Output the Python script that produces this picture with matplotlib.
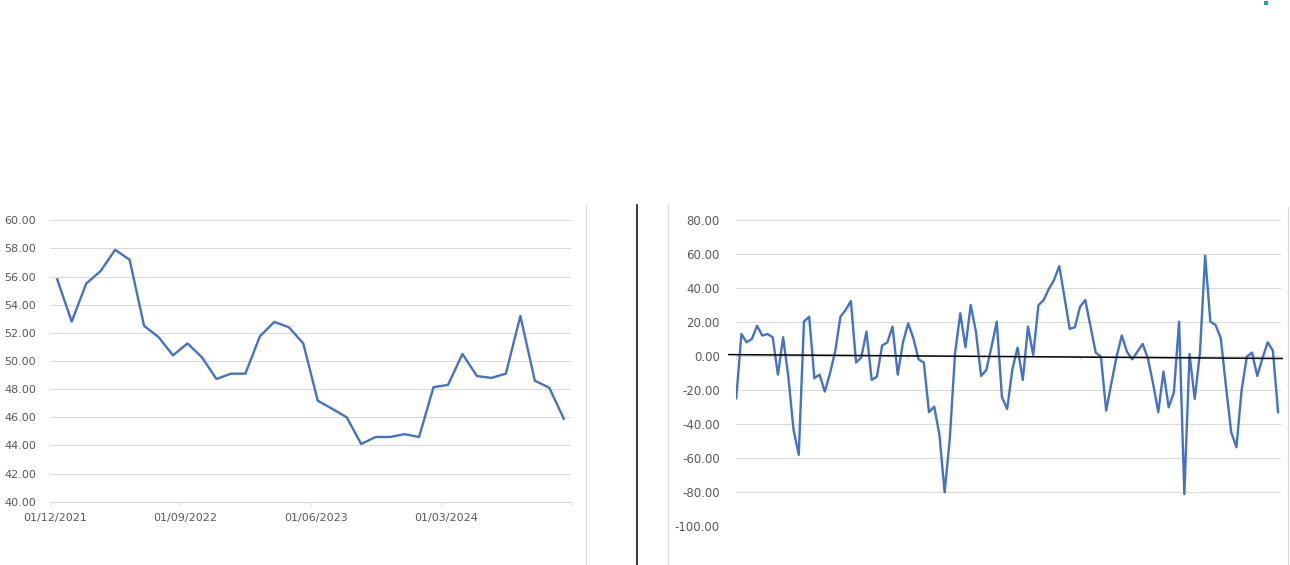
import matplotlib
matplotlib.use('Agg')
import matplotlib.pyplot as plt
from matplotlib.lines import Line2D
from matplotlib.patches import Rectangle
import numpy as np

plt.rcParams['font.family'] = ['DejaVu Sans']
plt.rcParams['font.size'] = 8

# Left chart: monthly values, Dec 2021 .. Nov 2024
monthly_values = [55.8, 52.8, 55.5, 56.4, 57.9, 57.2, 52.5, 51.7, 50.4, 51.25,
                  50.26, 48.72, 49.1, 49.1, 51.75, 52.78, 52.4, 51.25, 47.18, 46.6,
                  46.0, 44.1, 44.6, 44.6, 44.8, 44.6, 48.14, 48.3, 50.5, 48.93,
                  48.8, 49.1, 53.2, 48.6, 48.1, 45.9]
date_labels = ['01/12/2021', '01/09/2022', '01/06/2023', '01/03/2024']

# Right chart: period changes
changes = [-24.7, 13.1, 8.2, 10.2, 18.0, 12.2, 13.1, 11.2, -10.8, 11.2,
           -12.0, -43.3, -58.0, 20.4, 23.3, -12.9, -10.8, -20.8, -10.0, 3.0,
           23.3, 27.3, 32.5, -3.7, -0.6, 14.5, -13.9, -12.0, 6.3, 8.2,
           17.5, -10.8, 8.2, 19.4, 10.6, -1.8, -3.7, -32.9, -29.6, -46.3,
           -80.0, -48.0, 1.8, 25.3, 5.3, 30.2, 14.5, -11.6, -8.0, 5.7,
           20.4, -24.1, -31.0, -7.6, 5.1, -13.9, 17.5, 0.8, 30.0, 33.1,
           39.6, 44.9, 53.1, 34.7, 16.1, 17.1, 29.2, 33.1, 17.5, 2.2,
           -0.2, -32.0, -15.9, -0.2, 12.2, 2.7, -1.8, 2.7, 7.3, -1.2,
           -15.9, -32.9, -9.0, -30.0, -21.2, 20.4, -81.0, 1.4, -25.1, 2.0,
           59.2, 20.4, 18.4, 10.6, -17.8, -44.7, -53.5, -19.8, -0.2, 2.2,
           -11.6, -1.2, 8.2, 3.3, -32.9]

# linear trend: value at its start and end
trend_ends = [1.0, -1.3]

BLUE = '#4472C4'
GRID = '#d9d9d9'
TXT = '#595959'

fig = plt.figure(figsize=(12.9, 5.65), dpi=100)

# ---- left chart
ax1 = fig.add_axes([50 / 1290, 1 - 501.7 / 565, 521 / 1290, 281.4 / 565])
n = len(monthly_values)
ax1.plot(np.arange(n) + 0.5, monthly_values, color=BLUE, lw=1.7)
ax1.set_xlim(0, n)
ax1.set_ylim(40, 60)
ax1.set_yticks(np.arange(40, 61, 2))
ax1.set_yticklabels([f'{v:.2f}' for v in np.arange(40, 61, 2)])
ax1.set_xticks(np.arange(0, n + 1, 9), minor=True)
ax1.set_xticks(np.arange(0, n, 9) + 0.38)
ax1.set_xticklabels(date_labels)
ax1.tick_params(axis='x', which='major', length=0, pad=8, colors=TXT)
ax1.tick_params(axis='x', which='minor', length=3, color=GRID)
ax1.tick_params(axis='y', length=0, pad=10, colors=TXT)
ax1.grid(axis='y', color=GRID, lw=0.75)
ax1.set_axisbelow(True)
for s in ['top', 'right', 'left']:
    ax1.spines[s].set_visible(False)
ax1.spines['bottom'].set_color(GRID)

# ---- right chart
ax2 = fig.add_axes([735.7 / 1290, 1 - 526.3 / 565, 545 / 1290, 306 / 565])
m = len(changes)
idx = np.arange(m)
ax2.plot(idx, changes, color=BLUE, lw=1.7, zorder=3)
ax2.set_xlim(-0.1, m - 1 + 0.5)
ax2.set_ylim(-100, 80)
yt = np.arange(-100, 81, 20)
ax2.set_yticks(yt)
ax2.set_yticklabels([f'{v:.2f}' for v in yt])
ax2.tick_params(axis='y', length=0, pad=11.5, colors=TXT, labelsize=8.5)
ax2.grid(axis='y', color=GRID, lw=0.75)
ax2.get_ygridlines()[0].set_visible(False)
ax2.set_axisbelow(True)
for s in ['top', 'right', 'left']:
    ax2.spines[s].set_visible(False)
ax2.spines['bottom'].set_position(('data', 0))
ax2.spines['bottom'].set_color(GRID)
ax2.set_xticks(np.arange(0, m, 33))
ax2.set_xticklabels([])
ax2.tick_params(axis='x', length=3, color=GRID)

# linear trend line
ax2.plot([-1.4, m - 1 + 0.8], trend_ends, color='black', lw=1.1, zorder=4, clip_on=False)

# chart frame / separators
def vline(x, y0, color, lw):
    fig.add_artist(Line2D([x / 1290, x / 1290], [1 - y0 / 565, 0],
                          transform=fig.transFigure, color=color, lw=lw))

vline(585.7, 205, GRID, 0.9)
vline(636.7, 205, 'black', 1.1)
vline(667.7, 205, GRID, 0.9)
vline(1288.3, 207, GRID, 0.9)

fig.add_artist(Rectangle((1264 / 1290, 1 - 5 / 565), 4 / 1290, 4 / 565,
                         transform=fig.transFigure, color='#1ba1c9', lw=0))

fig.savefig('out.png', dpi=100)
plt.close()
